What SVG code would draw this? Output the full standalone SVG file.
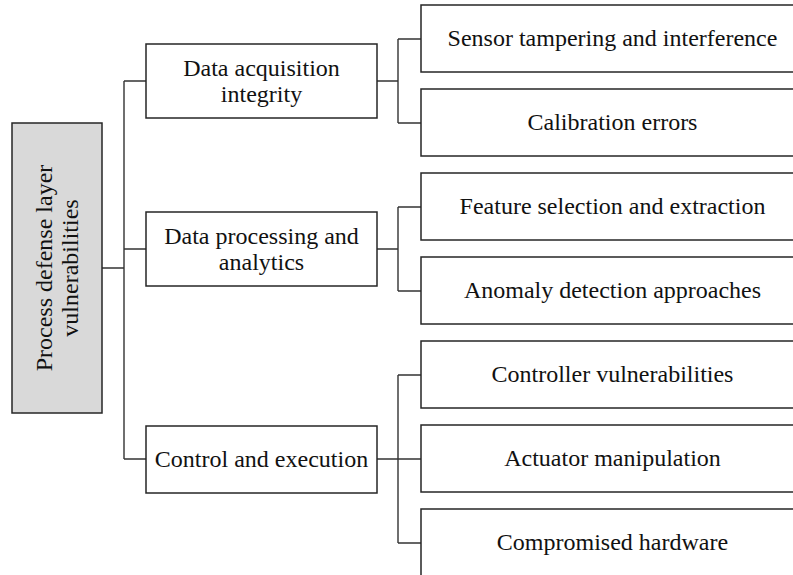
<svg xmlns="http://www.w3.org/2000/svg" width="793" height="575" viewBox="0 0 793 575">
<style>
.box{fill:#ffffff;stroke:#262626;stroke-width:1.5}
.root{fill:#d9d9d9;stroke:#262626;stroke-width:1.5}
.t{font-family:"Liberation Serif","Times New Roman",serif;font-size:24px;fill:#111;text-anchor:middle}
.c{fill:none;stroke:#333;stroke-width:1.4}
</style>
<rect width="793" height="575" fill="#ffffff"/>
<g id="connectors">
<path class="c" d="M102,268 H124 M124,81 V459 M124,81 H146 M124,249 H146 M124,459 H146"/>
<path class="c" d="M377,81 H398 M398,39 V123 M398,39 H421 M398,123 H421"/>
<path class="c" d="M377,249 H398 M398,207 V291 M398,207 H421 M398,291 H421"/>
<path class="c" d="M377,459 H421 M398,375 V543 M398,375 H421 M398,543 H421"/>
</g>
<g id="root">
<rect class="root" x="12" y="123" width="90" height="290"/>
<text class="t" transform="translate(57,268) rotate(-90)"><tspan x="0" y="-5">Process defense layer</tspan><tspan x="0" y="21">vulnerabilities</tspan></text>
</g>
<g id="mid1">
<rect class="box" x="146" y="44" width="231" height="74"/>
<text class="t"><tspan x="261.5" y="75.5">Data acquisition</tspan><tspan x="261.5" y="101.5">integrity</tspan></text>
</g>
<g id="mid2">
<rect class="box" x="146" y="212" width="231" height="74"/>
<text class="t"><tspan x="261.5" y="243.5">Data processing and</tspan><tspan x="261.5" y="269.5">analytics</tspan></text>
</g>
<g id="mid3">
<rect class="box" x="146" y="426" width="231" height="67"/>
<text class="t" x="261.5" y="467">Control and execution</text>
</g>
<g id="c1">
<rect class="box" x="421" y="5" width="383" height="67"/>
<text class="t" x="612.5" y="46">Sensor tampering and interference</text>
</g>
<g id="c2">
<rect class="box" x="421" y="89" width="383" height="67"/>
<text class="t" x="612.5" y="130">Calibration errors</text>
</g>
<g id="c3">
<rect class="box" x="421" y="173" width="383" height="67"/>
<text class="t" x="612.5" y="214">Feature selection and extraction</text>
</g>
<g id="c4">
<rect class="box" x="421" y="257" width="383" height="67"/>
<text class="t" x="612.5" y="298">Anomaly detection approaches</text>
</g>
<g id="c5">
<rect class="box" x="421" y="341" width="383" height="67"/>
<text class="t" x="612.5" y="382">Controller vulnerabilities</text>
</g>
<g id="c6">
<rect class="box" x="421" y="425" width="383" height="67"/>
<text class="t" x="612.5" y="466">Actuator manipulation</text>
</g>
<g id="c7">
<rect class="box" x="421" y="509" width="383" height="67"/>
<text class="t" x="612.5" y="550">Compromised hardware</text>
</g>
</svg>
